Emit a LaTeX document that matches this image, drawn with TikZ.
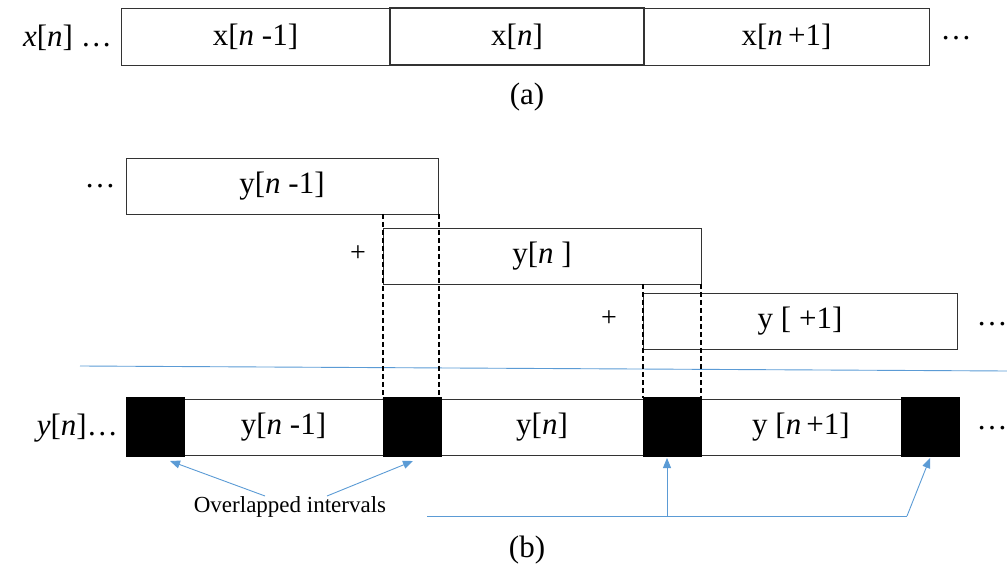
\documentclass[tikz,border=0pt]{standalone}
\usepackage{fontspec}
\setmainfont{Liberation Serif}
\usetikzlibrary{arrows.meta}
\definecolor{lblue}{RGB}{91,155,213}
\begin{document}
\begin{tikzpicture}[x=1pt,y=-1pt,
  big/.style={font=\fontsize{31}{36}\selectfont},
  box/.style={draw=black!80,line width=0.9pt,fill=white,inner sep=0pt,big,minimum height=57pt},
  blk/.style={draw=black,fill=black,inner sep=0pt,minimum width=58pt,minimum height=59pt},
  olap/.style={draw=black,line width=1.8pt,dash pattern=on 5pt off 3pt},
  lbl/.style={inner sep=0pt,big},
  arr/.style={draw=lblue,line width=0.9pt,-{Triangle[length=10pt,width=8pt]}},
  bl/.style={draw=lblue,line width=0.9pt}]
\useasboundingbox (0,0) rectangle (1007,569);
% (a)
\node[box,minimum width=269pt] (xm1) at (255.5,36.5) {x[\textit{n} -1]};
\node[box,minimum width=285pt] (xp1) at (786.5,36.5) {x[\textit{n}\,+1]};
\node[box,minimum width=254pt,line width=1.6pt] (xn) at (517,36.5) {x[\textit{n}]};
\node[lbl,anchor=east] (xlab) at (112,38) {\textit{x}[\textit{n}] \dots};
\node[lbl] (xdots) at (956,38) {\dots};
\node[lbl] (capa) at (527,97) {(a)};
% (b) shifted blocks
\node[box,minimum width=312pt,minimum height=56pt] (ym1t) at (282,186) {y[\textit{n} -1]};
\node[box,minimum width=318pt,minimum height=56pt] (ynt) at (542,256) {y[\textit{n} ]};
\node[box,minimum width=314pt,minimum height=56pt] (yp1t) at (800,321) {y [ +1]};
\node[lbl] (tdots) at (100,186) {\dots};
\node[lbl,font=\fontsize{28}{32}\selectfont] (plus1) at (358,254) {+};
\node[lbl,font=\fontsize{28}{32}\selectfont] (plus2) at (609,319) {+};
\node[lbl] (rdots) at (992,324) {\dots};
% blue separator
\coordinate (sepL) at (80,366);
\coordinate (sepR) at (1007,371);
\draw[bl] (sepL) -- (sepR);
% bottom row
\node[box,minimum width=199pt,minimum height=56pt] (w1) at (283.5,427) {y[\textit{n} -1]};
\node[box,minimum width=202pt,minimum height=56pt] (w2) at (542,427) {y[\textit{n}]};
\node[box,minimum width=200pt,minimum height=56pt] (w3) at (801,427) {y [\textit{n}\,+1]};
\node[blk] (b1) at (155,426.5) {};
\node[blk] (b2) at (412,426.5) {};
\node[blk] (b3) at (672,426.5) {};
\node[blk] (b4) at (930,426.5) {};
\node[lbl,anchor=east] (ylab) at (118,428) {\textit{y}[\textit{n}]\dots};
\node[lbl] (bdots) at (992,428) {\dots};
% overlap dashed verticals
\draw[olap] (383,214) -- (383,398);
\draw[olap] (439,214) -- (439,398);
\draw[olap] (643,284) -- (643,398);
\draw[olap] (701,284) -- (701,398);
% annotation
\node[inner sep=0pt,font=\fontsize{23}{27}\selectfont] (ol) at (290,507) {Overlapped intervals};
\coordinate (a1s) at (265,496);
\coordinate (a2s) at (327,496);
\draw[arr] (a1s) -- (170,461);
\draw[arr] (a2s) -- (413,461);
\coordinate (hL) at (427,516);
\coordinate (hM) at (667,516);
\coordinate (hR) at (907,516);
\draw[bl] (hL) -- (hR);
\draw[arr] (hM) -- (667,458);
\draw[arr] (hR) -- (930,458);
\node[lbl] (capb) at (527,550) {(b)};
\end{tikzpicture}
\end{document}
